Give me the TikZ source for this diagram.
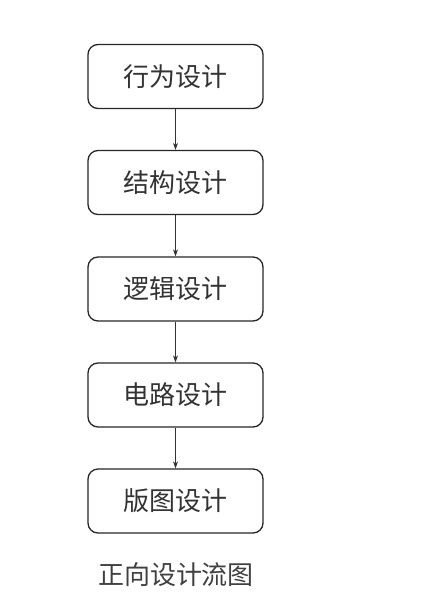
\documentclass[tikz,border=0pt]{standalone}
\usepackage{fontspec}
\newfontfamily\cjk{Noto Sans CJK SC}
\usetikzlibrary{arrows.meta}
\begin{document}
\begin{tikzpicture}[x=1pt,y=-1pt,
  stepbox/.style={draw=black!85, line width=1.3pt, rounded corners=10pt,
    minimum width=175pt, minimum height=64pt, inner sep=0pt,
    font=\cjk\fontsize{26}{30}\selectfont, text=black!80},
  link/.style={draw=black!80, line width=0.8pt, -{Stealth[length=7pt,width=5pt]}}]
\useasboundingbox (0,0) rectangle (422,606);
\node[stepbox] (a) at (175.5,76.5) {行为设计};
\node[stepbox] (b) at (175.5,182.5) {结构设计};
\node[stepbox] (c) at (175.5,289) {逻辑设计};
\node[stepbox] (d) at (175.5,395) {电路设计};
\node[stepbox] (e) at (175.5,501) {版图设计};
\node[font=\cjk\fontsize{26}{30}\selectfont, text=black!75] (cap) at (176,575) {正向设计流图};
\draw[link] (a) -- (b);
\draw[link] (b) -- (c);
\draw[link] (c) -- (d);
\draw[link] (d) -- (e);
\end{tikzpicture}
\end{document}
